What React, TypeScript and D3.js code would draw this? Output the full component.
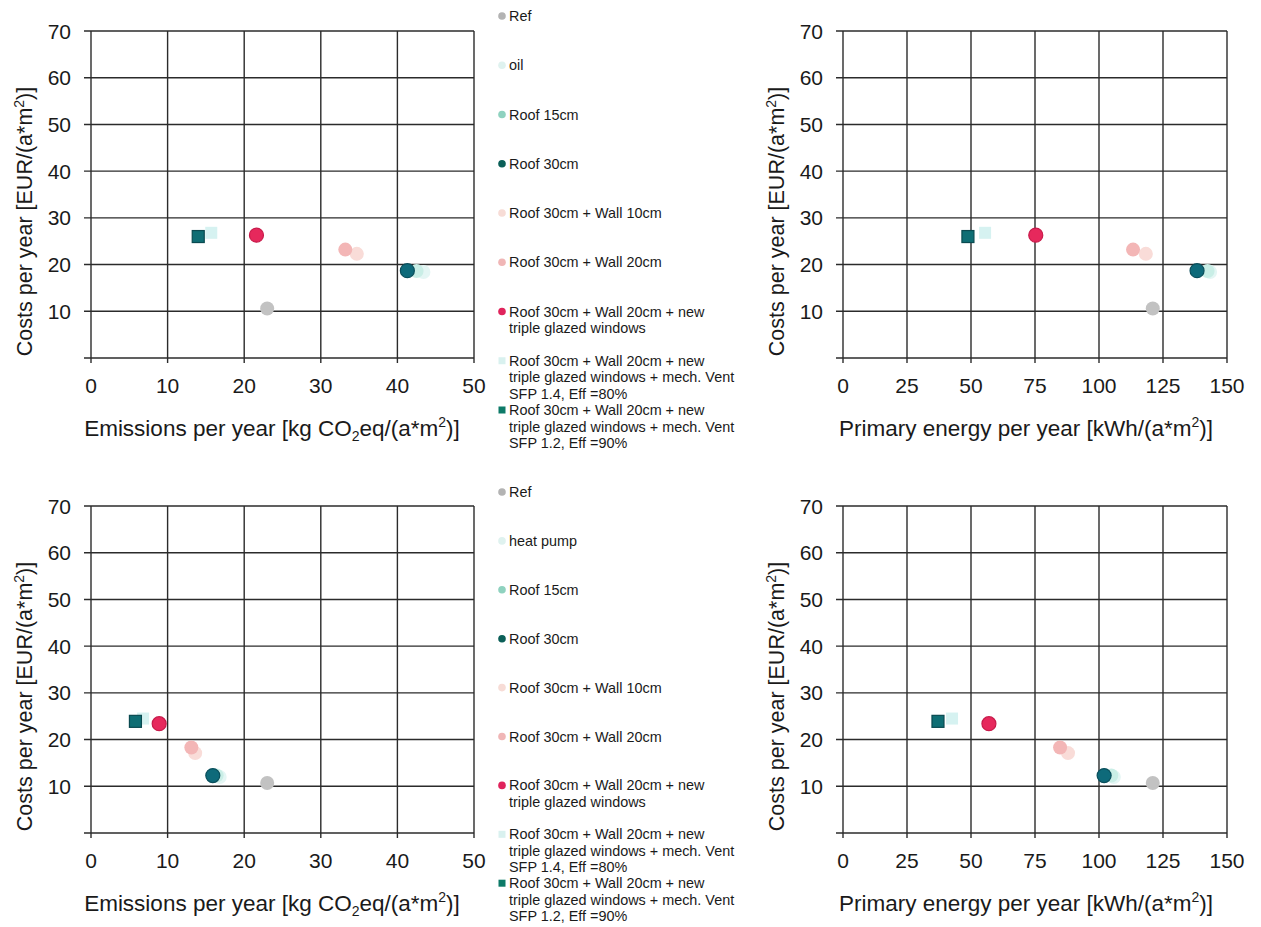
import React from "react";
import * as d3 from "d3";

// ---- Data ----
const labelsOil = [
  "Ref",
  "oil",
  "Roof 15cm",
  "Roof 30cm",
  "Roof 30cm + Wall 10cm",
  "Roof 30cm + Wall 20cm",
  "Roof 30cm + Wall 20cm + new|triple glazed windows",
  "Roof 30cm + Wall 20cm + new|triple glazed windows + mech. Vent|SFP 1.4, Eff =80%",
  "Roof 30cm + Wall 20cm + new|triple glazed windows + mech. Vent|SFP 1.2, Eff =90%",
];
const labelsHp = [
  "Ref",
  "heat pump",
  "Roof 15cm",
  "Roof 30cm",
  "Roof 30cm + Wall 10cm",
  "Roof 30cm + Wall 20cm",
  "Roof 30cm + Wall 20cm + new|triple glazed windows",
  "Roof 30cm + Wall 20cm + new|triple glazed windows + mech. Vent|SFP 1.4, Eff =80%",
  "Roof 30cm + Wall 20cm + new|triple glazed windows + mech. Vent|SFP 1.2, Eff =90%",
];
const oilEmissions = [23.0, 43.4, 42.5, 41.3, 34.7, 33.2, 21.6, 15.7, 14.0];
const oilEnergy = [121.0, 143.4, 142.4, 138.3, 118.3, 113.3, 75.3, 55.5, 48.8];
const oilCosts = [10.6, 18.4, 18.6, 18.7, 22.3, 23.2, 26.3, 26.8, 26.0];
const hpEmissions = [23.0, 16.8, 16.4, 15.9, 13.6, 13.1, 8.9, 6.8, 5.8];
const hpEnergy = [121.0, 105.8, 104.8, 102.0, 87.9, 84.8, 57.0, 42.6, 37.1];
const hpCosts = [10.7, 12.0, 12.3, 12.3, 17.1, 18.3, 23.4, 24.5, 23.9];

const xTicksEmissions = [0, 10, 20, 30, 40, 50];
const xTicksEnergy = [0, 25, 50, 75, 100, 125, 150];
const yGrid = [0, 10, 20, 30, 40, 50, 60, 70];
const yTickLabels = [10, 20, 30, 40, 50, 60, 70];

const seriesColors = [
  "#c2c2c2",
  "#e4f6f4",
  "#c9eee6",
  "#0e6a7a",
  "#f9dcd8",
  "#f3b6b6",
  "#e6285c",
  "#d6f2f1",
  "#0f6e74",
];
const legendColors = [
  "#b3b3b3",
  "#dff2ef",
  "#8fd2bf",
  "#0b5f58",
  "#f7dcd6",
  "#f0b6b6",
  "#e0245c",
  "#d9f1ef",
  "#0d7a68",
];
const seriesStroke = [null, null, null, "#0a4f5c", null, null, "#c81a4a", null, "#0a4a50"];
const seriesShapes = ["c", "c", "c", "c", "c", "c", "c", "s", "s"];

const FONT = "'Liberation Sans', Arial, Helvetica, sans-serif";

type PanelProps = {
  x0: number;
  x1: number;
  y0: number;
  y1: number;
  xDomain: [number, number];
  xTicks: number[];
  xs: number[];
  ys: number[];
  xTitle: "em" | "pe";
  titleX: number;
};

function Marker({ shape, cx, cy, color, stroke, size }: any) {
  const sp = stroke ? { stroke, strokeWidth: 1.2 } : {};
  if (shape === "s") {
    return (
      <rect x={cx - size} y={cy - size} width={size * 2} height={size * 2} fill={color} {...sp} />
    );
  }
  return <circle cx={cx} cy={cy} r={size} fill={color} {...sp} />;
}

function Panel(p: PanelProps) {
  const x = d3.scaleLinear().domain(p.xDomain).range([p.x0, p.x1]);
  const y = d3.scaleLinear().domain([0, 70]).range([p.y0, p.y1]);
  const gridColor = "#2b2b2b";
  return (
    <g fontFamily={FONT}>
      {yGrid.map((v) => (
        <line
          key={"h" + v}
          x1={p.x0 - 7}
          x2={p.x1}
          y1={y(v)}
          y2={y(v)}
          stroke={gridColor}
          strokeWidth={1.4}
        />
      ))}
      {p.xTicks.map((v) => (
        <line
          key={"v" + v}
          x1={x(v)}
          x2={x(v)}
          y1={y(70)}
          y2={y(0) + 5}
          stroke={gridColor}
          strokeWidth={1.4}
        />
      ))}
      {yTickLabels.map((v) => (
        <text
          key={"yl" + v}
          x={p.x0 - 20}
          y={y(v)}
          dy="0.36em"
          textAnchor="end"
          fontSize={21}
          fill="#1a1a1a"
        >
          {v}
        </text>
      ))}
      {p.xTicks.map((v) => (
        <text
          key={"xl" + v}
          x={x(v)}
          y={y(0) + 35}
          textAnchor="middle"
          fontSize={21}
          fill="#1a1a1a"
        >
          {v}
        </text>
      ))}
      <text
        transform={`translate(${p.x0 - 59},${(p.y0 + p.y1) / 2 + 27}) rotate(-90)`}
        textAnchor="middle"
        fontSize={21.5}
        fill="#1a1a1a"
      >
        Costs per year [EUR/(a*m
        <tspan fontSize={14} dy={-8}>2</tspan>
        <tspan dy={8}>)]</tspan>
      </text>
      {p.xTitle === "em" ? (
        <text x={p.titleX} y={y(0) + 78} textAnchor="middle" fontSize={22.5} fill="#1a1a1a">
          Emissions per year [kg CO
          <tspan fontSize={14} dy={5}>2</tspan>
          <tspan dy={-5}>eq/(a*m</tspan>
          <tspan fontSize={14} dy={-9}>2</tspan>
          <tspan dy={9}>)]</tspan>
        </text>
      ) : (
        <text x={p.titleX} y={y(0) + 78} textAnchor="middle" fontSize={22.5} fill="#1a1a1a">
          Primary energy per year [kWh/(a*m
          <tspan fontSize={14} dy={-9}>2</tspan>
          <tspan dy={9}>)]</tspan>
        </text>
      )}
      {p.xs.map((xv, i) => (
        <Marker
          key={"m" + i}
          shape={seriesShapes[i]}
          cx={x(xv)}
          cy={y(p.ys[i])}
          color={seriesColors[i]}
          stroke={seriesStroke[i]}
          size={seriesShapes[i] === "s" ? 6 : 7}
        />
      ))}
    </g>
  );
}

function Legend({ labels, top, step }: { labels: string[]; top: number; step: number }) {
  return (
    <g fontFamily={FONT} fontSize={14.4} fill="#1a1a1a">
      {labels.map((lab, i) => {
        const cy = top + i * step;
        const lines = lab.split("|");
        return (
          <g key={i}>
            {seriesShapes[i] === "s" ? (
              <rect x={498.5} y={cy - 3.5} width={7} height={7} fill={legendColors[i]} />
            ) : (
              <circle cx={502} cy={cy} r={3.8} fill={legendColors[i]} />
            )}
            <text x={509} y={cy}>
              {lines.map((ln, j) => (
                <tspan key={j} x={509} dy={j === 0 ? "0.35em" : 16.5}>
                  {ln}
                </tspan>
              ))}
            </text>
          </g>
        );
      })}
    </g>
  );
}

export default function App() {
  return (
    <svg
      width={1261}
      height={927}
      style={{ position: "absolute", left: 0, top: 0, background: "#fff" }}
    >
      <rect width={1261} height={927} fill="#fff" />
      <Panel
        x0={91}
        x1={474}
        y0={358}
        y1={31}
        xDomain={[0, 50]}
        xTicks={xTicksEmissions}
        xs={oilEmissions}
        ys={oilCosts}
        xTitle="em"
        titleX={272}
      />
      <Panel
        x0={843}
        x1={1227}
        y0={358}
        y1={31}
        xDomain={[0, 150]}
        xTicks={xTicksEnergy}
        xs={oilEnergy}
        ys={oilCosts}
        xTitle="pe"
        titleX={1026}
      />
      <Panel
        x0={91}
        x1={474}
        y0={833}
        y1={506}
        xDomain={[0, 50]}
        xTicks={xTicksEmissions}
        xs={hpEmissions}
        ys={hpCosts}
        xTitle="em"
        titleX={272}
      />
      <Panel
        x0={843}
        x1={1227}
        y0={833}
        y1={506}
        xDomain={[0, 150]}
        xTicks={xTicksEnergy}
        xs={hpEnergy}
        ys={hpCosts}
        xTitle="pe"
        titleX={1026}
      />
      <Legend labels={labelsOil} top={16} step={49.25} />
      <Legend labels={labelsHp} top={492} step={48.9} />
    </svg>
  );
}
